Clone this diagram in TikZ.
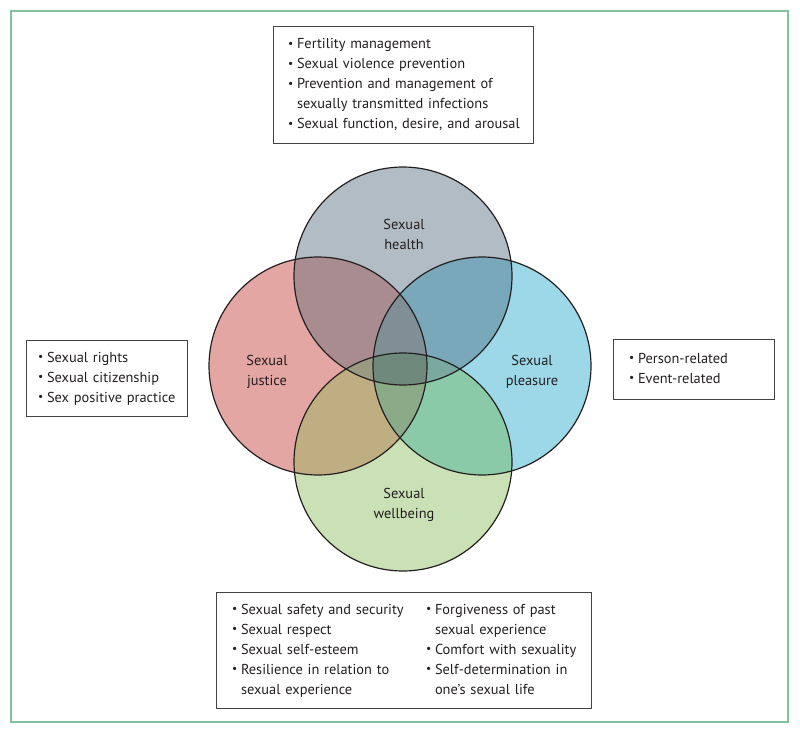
\documentclass[tikz,border=0pt]{standalone}
\usepackage{fontspec}
\setmainfont{PT Sans}
\usepackage{tikz}
\usetikzlibrary{positioning}
\definecolor{cInk}{HTML}{231F20}
\definecolor{cFrame}{HTML}{82C0A2}
\definecolor{cHealth}{HTML}{B2BCC4}
\definecolor{cJustice}{HTML}{E3A6A3}
\definecolor{cPleasure}{HTML}{9DD8E8}
\definecolor{cWell}{HTML}{CAE0B5}
\definecolor{cHJ}{HTML}{A88C90}
\definecolor{cHP}{HTML}{78A8BA}
\definecolor{cJW}{HTML}{BEAE82}
\definecolor{cPW}{HTML}{8ACAA8}
\definecolor{cHJP}{HTML}{7F8F95}
\definecolor{cJPW}{HTML}{8BAA88}
\definecolor{cHJW}{HTML}{9A9A80}
\definecolor{cHPW}{HTML}{7AAA9F}
\definecolor{cAll}{HTML}{6F8A7C}
\newlength{\bw}\setlength{\bw}{9pt}
\newcommand{\bul}{\makebox[\bw][l]{\raisebox{0.2ex}{\scalebox{0.8}{\textbullet}}}}
\newcommand{\ind}{\hspace*{\bw}}
\def\circR{109pt}

\begin{document}
\begin{tikzpicture}[x=1pt, y=-1pt,
    font=\fontsize{14.4}{20}\selectfont, text=cInk,
    box/.style={draw=cInk!85, line width=0.9pt, align=left, inner ysep=0pt},
    ring/.style={draw=cInk, line width=1.2pt},
    lbl/.style={align=center, inner sep=0pt}]

  \useasboundingbox (0,0) rectangle (800,733);
  \draw[cFrame, line width=1.2pt] (11,11) rectangle (788,722);

  \coordinate (pHealth)   at (403,276);
  \coordinate (pJustice)  at (318,366);
  \coordinate (pPleasure) at (482,366);
  \coordinate (pWell)     at (403,462);

  % single areas
  \fill[cHealth]   (pHealth)   circle[radius=\circR];
  \fill[cJustice]  (pJustice)  circle[radius=\circR];
  \fill[cPleasure] (pPleasure) circle[radius=\circR];
  \fill[cWell]     (pWell)     circle[radius=\circR];

  % overlaps of two
  \begin{scope}
    \clip (pHealth) circle[radius=\circR];
    \fill[cHJ] (pJustice)  circle[radius=\circR];
    \fill[cHP] (pPleasure) circle[radius=\circR];
  \end{scope}
  \begin{scope}
    \clip (pWell) circle[radius=\circR];
    \fill[cJW] (pJustice)  circle[radius=\circR];
    \fill[cPW] (pPleasure) circle[radius=\circR];
  \end{scope}

  % overlaps of three
  \begin{scope}
    \clip (pJustice) circle[radius=\circR];
    \clip (pPleasure) circle[radius=\circR];
    \fill[cHJP] (pHealth) circle[radius=\circR];
    \fill[cJPW] (pWell)   circle[radius=\circR];
  \end{scope}
  \begin{scope}
    \clip (pHealth) circle[radius=\circR];
    \clip (pWell) circle[radius=\circR];
    \fill[cHJW] (pJustice)  circle[radius=\circR];
    \fill[cHPW] (pPleasure) circle[radius=\circR];
  \end{scope}

  % centre
  \begin{scope}
    \clip (pHealth) circle[radius=\circR];
    \clip (pWell) circle[radius=\circR];
    \clip (pJustice) circle[radius=\circR];
    \fill[cAll] (pPleasure) circle[radius=\circR];
  \end{scope}

  \foreach \c in {pHealth,pJustice,pPleasure,pWell}
    \draw[ring] (\c) circle[radius=\circR];

  \node[lbl] (lHealth)   at (404,234) {Sexual\\health};
  \node[lbl] (lJustice)  at (267,372) {Sexual\\justice};
  \node[lbl] (lPleasure) at (532,372) {Sexual\\pleasure};
  \node[lbl] (lWell)     at (404,505) {Sexual\\wellbeing};

  \node[box, text width=230pt, inner xsep=15pt, minimum height=117pt]
    (bHealth) at (403,84.5) {\begin{tabular}{@{}l@{}}
      \bul Fertility management\\
      \bul Sexual violence prevention\\
      \bul Prevention and management of\\
      \ind sexually transmitted infections\\
      \bul Sexual function, desire, and arousal
    \end{tabular}};

  \node[box, text width=137pt, inner xsep=12pt, minimum height=76pt]
    (bJustice) at (106.5,378) {\begin{tabular}{@{}l@{}}
      \bul Sexual rights\\
      \bul Sexual citizenship\\
      \bul Sex positive practice
    \end{tabular}};

  \node[box, text width=129pt, inner xsep=16pt, minimum height=60pt]
    (bPleasure) at (693.5,369) {\begin{tabular}{@{}l@{}}
      \bul Person-related\\
      \bul Event-related
    \end{tabular}};

  \node[box, text width=343pt, inner xsep=16pt, minimum height=116pt]
    (bWell) at (403.5,650) {\begin{tabular}{@{}p{194pt}@{}l@{}}
      \bul Sexual safety and security & \bul Forgiveness of past\\
      \bul Sexual respect & \ind sexual experience\\
      \bul Sexual self-esteem & \bul Comfort with sexuality\\
      \bul Resilience in relation to & \bul Self-determination in\\
      \ind sexual experience & \ind one’s sexual life
    \end{tabular}};
\end{tikzpicture}
\end{document}
